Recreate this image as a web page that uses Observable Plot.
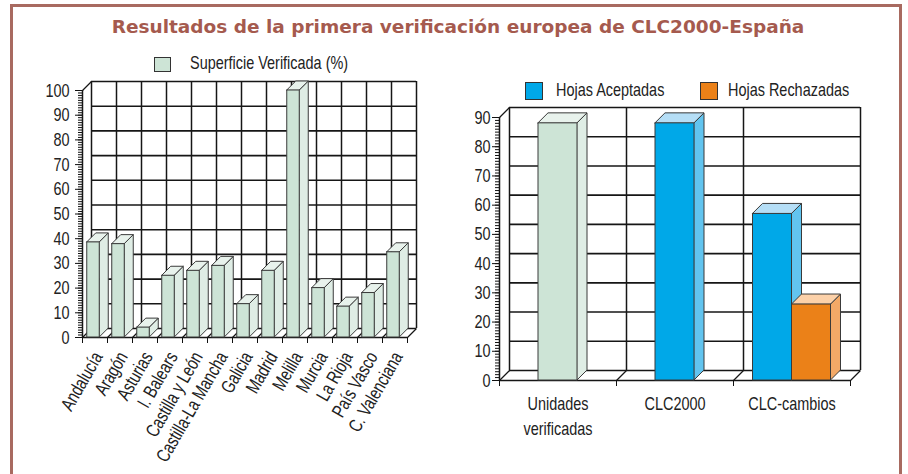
<!DOCTYPE html>
<html>
<head>
<meta charset="utf-8">
<script src="https://cdn.jsdelivr.net/npm/d3@7"></script>
<script src="https://cdn.jsdelivr.net/npm/@observablehq/plot@0.6"></script>
<style>
html, body { margin: 0; padding: 0; background: #fff; }
#root { position: relative; width: 908px; height: 474px; overflow: hidden;
  font-family: "Liberation Sans", Arial, sans-serif; color: #222; }
#frame { position: absolute; left: 10px; top: 4px; width: 886px; height: 490px; border: 3px solid #a86a60; }
#title { position: absolute; left: 8px; width: 900px; top: 18px; text-align: center;
  font-family: "DejaVu Sans", sans-serif; font-weight: bold; font-size: 18.5px; line-height: 18px; color: #a55a4e; white-space: nowrap; }
.chart { position: absolute; top: 0; width: 454px; height: 474px; }
.leg { position: absolute; font-size: 19px; line-height: 19px; white-space: nowrap; transform: scaleX(0.76); transform-origin: 0 0; }
.sw { position: absolute; box-sizing: border-box; border: 1.2px solid #333; }
</style>
</head>
<body>
<div id="root">
  <div id="frame"></div>
  <div id="title">Resultados de la primera verificación europea de CLC2000-España</div>
  <div id="left" class="chart" style="left:0"></div>
  <div id="right" class="chart" style="left:454px"></div>
  <div id="legends"></div>
</div>
<script>
// ---- Data: left chart ----
const regiones = ["Andalucía", "Aragón", "Asturias", "I. Balears", "Castilla y León", "Castilla-La Mancha",
  "Galicia", "Madrid", "Melilla", "Murcia", "La Rioja", "País Vasco", "C. Valenciana"];
const superficieVerificada = [38.5, 37.8, 4, 25, 27, 29, 13.5, 27, 100, 20, 12.5, 18, 34.5];
const yTicksLeft = [0, 10, 20, 30, 40, 50, 60, 70, 80, 90, 100];
const leftSeries = ["Superficie Verificada (%)"];

// ---- Data: right chart ----
const hojasCategorias = ["Unidades\nverificadas", "CLC2000", "CLC-cambios"];
const unidadesVerificadas = [88, null, null];
const hojasAceptadas = [null, 88, 57];
const hojasRechazadas = [null, null, 26];
const yTicksRight = [0, 10, 20, 30, 40, 50, 60, 70, 80, 90];
const rightSeries = ["Hojas Aceptadas", "Hojas Rechazadas"];

// ---- Styles ----
const FONT = '"Liberation Sans", Arial, sans-serif';
const NARROW = 0.76;
const GREEN = {front: "#cde4d6", side: "#dfede5", top: "#e8f2ec"};
const BLUE = {front: "#00a8e8", side: "#62c4ef", top: "#b5def6"};
const ORANGE = {front: "#eb8118", side: "#f3a967", top: "#fcd1a9"};
const GRID = "#161616";
const EDGE = "#3a3a3a";

function narrowText(svg, f) {
  svg.querySelectorAll("text").forEach(t => {
    const spans = t.querySelectorAll("tspan");
    const els = spans.length ? [...spans] : [t];
    els.forEach(e => {
      const L = e.getComputedTextLength();
      if (L > 0) { e.setAttribute("textLength", L * f); e.setAttribute("lengthAdjust", "spacingAndGlyphs"); }
    });
  });
}

function chart3D(cfg) {
  const {width, height, marginLeft, marginRight, marginTop, marginBottom, nCats, yMax, yTicks, series, depthPx, tickPadding, labelMarks} = cfg;
  const DX = depthPx * nCats / (width - marginLeft - marginRight);
  const DY = depthPx * yMax / (height - marginTop - marginBottom);
  const cats = d3.range(nCats + 1);
  const marks = [
    Plot.ruleY(yTicks, {y: d => d + DY, x1: DX, x2: nCats + DX, stroke: GRID, strokeWidth: 1.6}),
    Plot.ruleX(cats, {x: d => d + DX, y1: DY, y2: yMax + DY, stroke: GRID, strokeWidth: 1.5}),
    Plot.link(cats, {x1: d => d, y1: 0, x2: d => d + DX, y2: DY, stroke: GRID, strokeWidth: 1.3}),
    Plot.link([yMax], {x1: 0, y1: d => d, x2: DX, y2: d => d + DY, stroke: GRID, strokeWidth: 1.3}),
    Plot.ruleY([0], {x1: 0, x2: nCats, stroke: GRID, strokeWidth: 1.5}),
    Plot.ruleX([0], {y1: 0, y2: yMax, stroke: GRID, strokeWidth: 1.5})
  ];
  const sides = [], tops = [], fronts = [];
  series.forEach(s => {
    const sd = [], td = [], fd = [];
    s.bars.forEach(b => {
      sd.push({id: b.id, x: b.x2, y1: 0, y2: b.v}, {id: b.id, x: b.x2 + DX, y1: DY, y2: b.v + DY});
      td.push({id: b.id, y: b.v, x1: b.x1, x2: b.x2}, {id: b.id, y: b.v + DY, x1: b.x1 + DX, x2: b.x2 + DX});
      fd.push(b);
    });
    sides.push(Plot.area(sd, {x1: "x", x2: "x", y1: "y1", y2: "y2", z: "id", fill: s.colors.side, stroke: EDGE, strokeWidth: 1}));
    tops.push(Plot.area(td, {x1: "x1", x2: "x2", y1: "y", y2: "y", z: "id", fill: s.colors.top, stroke: EDGE, strokeWidth: 1}));
    fronts.push(Plot.rect(fd, {x1: "x1", x2: "x2", y1: 0, y2: "v", fill: s.colors.front, stroke: EDGE, strokeWidth: 1}));
  });
  marks.push(...sides, ...tops, ...fronts);
  marks.push(
    Plot.axisY(d3.range(0, yMax + 1, 1), {anchor: "left", tickSize: 4, tickFormat: () => "", label: null, stroke: "#111"}),
    Plot.axisY(yTicks, {anchor: "left", tickSize: 7, tickPadding, fontSize: 19, label: null, stroke: "#111", fill: "#222"}),
    Plot.axisX(cats, {anchor: "bottom", tickSize: 6, tickFormat: () => "", label: null, stroke: "#111"}),
    ...labelMarks
  );
  return Plot.plot({
    width, height, marginLeft, marginRight, marginTop, marginBottom,
    x: {domain: [0, nCats], label: null},
    y: {domain: [0, yMax], label: null},
    style: {fontFamily: FONT, fontSize: "19px", background: "transparent", overflow: "visible", color: "#222"},
    marks
  });
}

// Left chart
const leftBars = regiones.map((r, i) => ({id: i, x1: i + 0.19, x2: i + 0.69, v: superficieVerificada[i]}));
const leftSvg = chart3D({
  width: 454, height: 474, marginLeft: 82, marginRight: 47, marginTop: 90, marginBottom: 137,
  nCats: regiones.length, yMax: 100, yTicks: yTicksLeft, depthPx: 9, tickPadding: 6,
  series: [{colors: GREEN, bars: leftBars}],
  labelMarks: [Plot.text(regiones, {x: (d, i) => i + 0.5, frameAnchor: "bottom", text: d => d, rotate: -60,
    textAnchor: "end", lineAnchor: "middle", dx: 3, dy: 16, fontSize: 19, fill: "#222"})]
});
document.getElementById("left").append(leftSvg);
narrowText(leftSvg, NARROW);

// Right chart
const rightGroups = [
  {colors: GREEN, values: unidadesVerificadas},
  {colors: BLUE, values: hojasAceptadas},
  {colors: ORANGE, values: hojasRechazadas}
];
const rightSeriesBars = rightGroups.map(g => ({colors: g.colors, bars: []}));
hojasCategorias.forEach((c, i) => {
  const present = rightGroups.map((g, k) => k).filter(k => rightGroups[k].values[i] != null);
  const w = 1 / 3;
  const start = i + 0.5 - present.length * w / 2;
  present.forEach((k, j) => {
    rightSeriesBars[k].bars.push({id: i * 10 + k, x1: start + j * w, x2: start + (j + 1) * w, v: rightGroups[k].values[i]});
  });
});
const rightSvg = chart3D({
  width: 454, height: 474, marginLeft: 45, marginRight: 58, marginTop: 117, marginBottom: 94,
  nCats: hojasCategorias.length, yMax: 90, yTicks: yTicksRight, depthPx: 10, tickPadding: 2,
  series: rightSeriesBars,
  labelMarks: [Plot.text(hojasCategorias, {x: (d, i) => i + 0.5, frameAnchor: "bottom", text: d => d,
    lineAnchor: "top", dy: 12, lineHeight: 1.3, fontSize: 19, fill: "#222"})]
});
document.getElementById("right").append(rightSvg);
narrowText(rightSvg, NARROW);

// Legends (HTML)
const legends = document.getElementById("legends");
function addLegend(x, y, w, h, color, textX, textY, label) {
  const sw = document.createElement("div");
  sw.className = "sw";
  Object.assign(sw.style, {left: x + "px", top: y + "px", width: w + "px", height: h + "px", background: color});
  const t = document.createElement("div");
  t.className = "leg";
  t.textContent = label;
  Object.assign(t.style, {left: textX + "px", top: textY + "px"});
  legends.append(sw, t);
}
addLegend(154, 57, 17, 15, GREEN.front, 190, 53, leftSeries[0]);
addLegend(525, 82, 18, 18, BLUE.front, 556, 80, rightSeries[0]);
addLegend(700, 82, 18, 18, ORANGE.front, 728, 80, rightSeries[1]);
</script>
</body>
</html>
